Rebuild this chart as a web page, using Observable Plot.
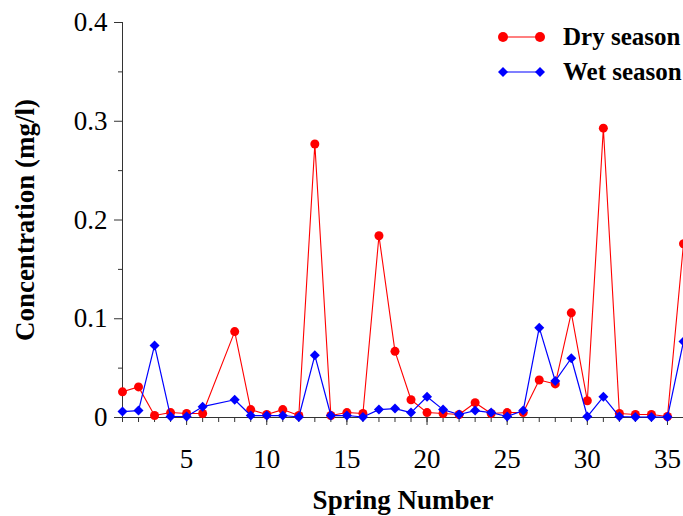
<!DOCTYPE html>
<html>
<head>
<meta charset="utf-8">
<script src="https://cdn.jsdelivr.net/npm/d3@7"></script>
<script src="https://cdn.jsdelivr.net/npm/@observablehq/plot@0.6"></script>
<style>
  html, body { margin: 0; padding: 0; background: #fff; }
  #wrap { position: relative; width: 683px; height: 516px; overflow: hidden; font-family: "Liberation Serif", "Times New Roman", serif; }
  #legend { position: absolute; left: 496px; top: 19px; font-weight: bold; font-size: 25px; color: #000; }
  #legend .row { display: flex; align-items: center; height: 35px; }
  #legend svg { margin-right: 16px; }
</style>
</head>
<body>
<div id="wrap"></div>
<script>
const springs = [1,2,3,4,5,6,8,9,10,11,12,13,14,15,16,17,18,19,20,21,22,23,24,25,26,27,28,29,30,31,32,33,34,35,36];
const drySeason = [0.026,0.031,0.002,0.005,0.004,0.004,0.087,0.008,0.003,0.008,0.002,0.277,0.002,0.005,0.004,0.184,0.067,0.018,0.005,0.004,0.003,0.015,0.004,0.005,0.005,0.038,0.034,0.106,0.017,0.293,0.004,0.003,0.003,0.001,0.176];
const wetSeason = [0.006,0.007,0.073,0.001,0.001,0.011,0.018,0.002,0.002,0.002,0.0005,0.063,0.002,0.002,0.0005,0.008,0.009,0.005,0.021,0.008,0.003,0.007,0.005,0.001,0.007,0.091,0.037,0.060,0.001,0.021,0.001,0.0005,0.0005,0.0005,0.077];
const seriesNames = ["Dry season", "Wet season"];
const seriesColors = ["#ff0000", "#0000ff"];
const yMajorTicks = [0, 0.1, 0.2, 0.3, 0.4];
const yMinorTicks = [0.05, 0.15, 0.25, 0.35];
const xMajorTicks = [5, 10, 15, 20, 25, 30, 35];
const xMinorTicks = d3.range(1, 37);
const xTitle = "Spring Number";
const yTitle = "Concentration (mg/l)";

const dry = springs.map((s, i) => ({spring: s, value: drySeason[i]}));
const wet = springs.map((s, i) => ({spring: s, value: wetSeason[i]}));

const chart = Plot.plot({
  width: 683,
  height: 516,
  marginLeft: 122,
  marginRight: 0,
  marginTop: 22,
  marginBottom: 99,
  style: {fontFamily: "'Liberation Serif', 'Times New Roman', serif", fontSize: "27px", color: "#000", background: "#fff"},
  x: {domain: [1, 36]},
  y: {domain: [0, 0.4]},
  marks: [
    Plot.axisY(yMinorTicks, {tickSize: 4, tickFormat: () => "", stroke: "#333", label: null}),
    Plot.axisY(yMajorTicks, {tickSize: 8, tickPadding: 7, stroke: "#333", tickFormat: d => d === 0 ? "0" : d3.format(".1f")(d), label: null, fontSize: 27}),
    Plot.axisX(xMinorTicks, {tickSize: 5, tickFormat: () => "", stroke: "#333", label: null}),
    Plot.axisX(xMajorTicks, {tickSize: 8, tickPadding: 23, stroke: "#333", label: null, fontSize: 27}),
    Plot.ruleY([0], {stroke: "#333"}),
    Plot.ruleX([1], {stroke: "#333"}),
    Plot.line(dry, {x: "spring", y: "value", stroke: seriesColors[0], strokeWidth: 1.1}),
    Plot.dot(dry, {x: "spring", y: "value", fill: seriesColors[0], r: 4.5, symbol: "circle"}),
    Plot.line(wet, {x: "spring", y: "value", stroke: seriesColors[1], strokeWidth: 1.2}),
    Plot.dot(wet, {x: "spring", y: "value", fill: seriesColors[1], r: 4.5, symbol: "diamond2"}),
    Plot.text([xTitle], {frameAnchor: "bottom", dy: 83, text: d => d, fontWeight: "bold", fontSize: 27, lineAnchor: "middle", textAnchor: "middle"}),
    Plot.text([yTitle], {frameAnchor: "left", dx: -97, rotate: -90, text: d => d, fontWeight: "bold", fontSize: 27, lineAnchor: "middle", textAnchor: "middle"})
  ]
});
const wrap = document.getElementById("wrap");
wrap.appendChild(chart);

const legend = document.createElement("div");
legend.id = "legend";
seriesNames.forEach((name, i) => {
  const row = document.createElement("div");
  row.className = "row";
  const sym = i === 0
    ? `<circle cx="7" cy="8" r="5" fill="${seriesColors[i]}"/><circle cx="44" cy="8" r="5" fill="${seriesColors[i]}"/>`
    : `<path d="M7 3 L12 8 L7 13 L2 8Z" fill="${seriesColors[i]}"/><path d="M44 3 L49 8 L44 13 L39 8Z" fill="${seriesColors[i]}"/>`;
  row.innerHTML = `<svg width="51" height="16"><line x1="7" x2="44" y1="8" y2="8" stroke="${seriesColors[i]}" stroke-width="1.2"/>${sym}</svg><span>${name}</span>`;
  legend.appendChild(row);
});
wrap.appendChild(legend);
</script>
</body>
</html>
